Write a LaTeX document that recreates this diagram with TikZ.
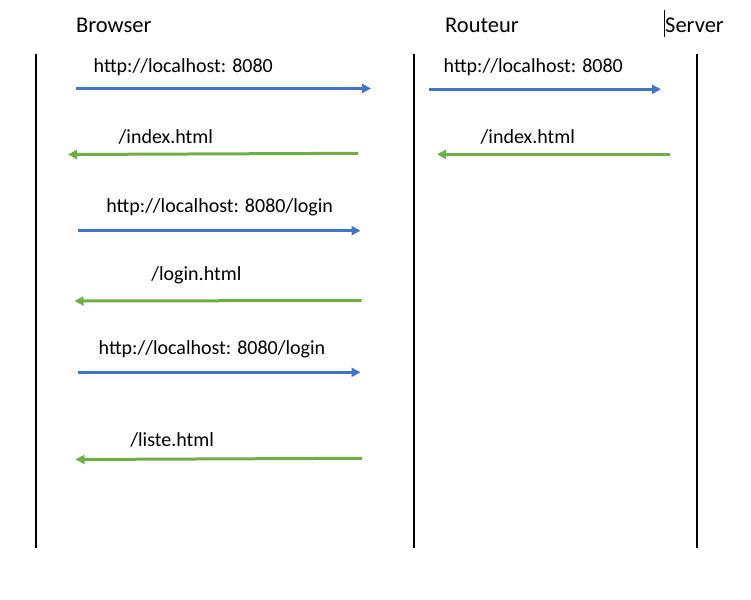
\documentclass[tikz,border=0pt]{standalone}
\usepackage{fontspec}
\setmainfont{Carlito}
\usetikzlibrary{arrows.meta}
\definecolor{reqblue}{HTML}{4472C4}
\definecolor{resgreen}{HTML}{70AD47}
\tikzset{
  header/.style={anchor=base west, inner sep=0pt, font=\fontsize{22.5bp}{27bp}\selectfont},
  msglabel/.style={anchor=base west, inner sep=0pt, font=\fontsize{20bp}{24bp}\selectfont},
  lifeline/.style={line width=2bp, black},
  req/.style={line width=3bp, reqblue, -{Triangle[length=9bp,width=9bp]}},
  res/.style={line width=3bp, resgreen, -{Triangle[length=9bp,width=9bp]}},
}
\begin{document}
\begin{tikzpicture}[x=1bp,y=-1bp]
\useasboundingbox (0,0) rectangle (751,600);
% headers
\node[header] (hb) at (76,32.3) {Browser};
\node[header] (hr) at (445,32.3) {Routeur};
\node[header] (hs) at (665,32.3) {Server};
\coordinate (curT) at (664.3,10);
\coordinate (curB) at (664.3,37);
\draw[line width=0.9bp] (curT) -- (curB);
% lifelines
\coordinate (bT) at (35.7,54.5); \coordinate (bB) at (35.7,548);
\coordinate (rT) at (414,54.5); \coordinate (rB) at (414,548);
\coordinate (sT) at (697,54.5); \coordinate (sB) at (697,548);
\draw[lifeline] (bT) -- (bB);
\draw[lifeline] (rT) -- (rB);
\draw[lifeline] (sT) -- (sB);
% message 1
\coordinate (m1a) at (76,88.5); \coordinate (m1b) at (371,88.5);
\draw[req] (m1a) -- (m1b);
\node[msglabel] (l1) at (93.5,72.7) {http://localhost: 8080};
% message 2
\coordinate (m2a) at (358,153.3); \coordinate (m2b) at (68,154.5);
\draw[res] (m2a) -- (m2b);
\node[msglabel] (l2) at (118.5,144) {/index.html};
% router -> server
\coordinate (m7a) at (429,89.3); \coordinate (m7b) at (661,89.3);
\draw[req] (m7a) -- (m7b);
\node[msglabel] (l7) at (443.5,72.7) {http://localhost: 8080};
\coordinate (m8a) at (670,154.3); \coordinate (m8b) at (437,154.3);
\draw[res] (m8a) -- (m8b);
\node[msglabel] (l8) at (480.5,144) {/index.html};
% message 3
\coordinate (m3a) at (78,230.7); \coordinate (m3b) at (360.5,230.7);
\draw[req] (m3a) -- (m3b);
\node[msglabel] (l3) at (106.2,212.3) {http://localhost: 8080/login};
% message 4
\coordinate (m4a) at (361.7,300.5); \coordinate (m4b) at (74.5,301);
\draw[res] (m4a) -- (m4b);
\node[msglabel] (l4) at (151.2,280.7) {/login.html};
% message 5
\coordinate (m5a) at (78,372.3); \coordinate (m5b) at (360.5,372.3);
\draw[req] (m5a) -- (m5b);
\node[msglabel] (l5) at (98.5,354) {http://localhost: 8080/login};
% message 6
\coordinate (m6a) at (362,458.3); \coordinate (m6b) at (75.5,459.5);
\draw[res] (m6a) -- (m6b);
\node[msglabel] (l6) at (130.2,446) {/liste.html};
\end{tikzpicture}
\end{document}
